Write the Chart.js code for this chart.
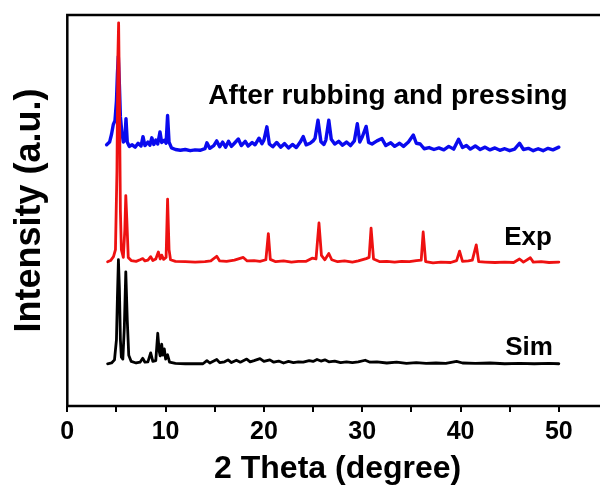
<!DOCTYPE html>
<html>
<head>
<meta charset="utf-8">
<script src="https://cdn.jsdelivr.net/npm/chart.js@4.4.1/dist/chart.umd.min.js"></script>
<style>
  html, body { margin: 0; padding: 0; background: #fff; overflow: hidden; }
  #wrap { width: 620px; height: 488px; }
</style>
</head>
<body>
<div id="wrap"><canvas id="xrd"></canvas></div>
<script>
// 2 theta values and offset intensities
const simX = [4.1, 4.5, 4.8, 5.0, 5.1, 5.2, 5.3, 5.4, 5.5, 5.65, 5.8, 5.95, 6.1, 6.25, 6.5, 7.0, 7.4, 7.67, 7.9, 8.2,
  8.48, 8.7, 9.0, 9.2, 9.35, 9.45, 9.6, 9.72, 9.87, 10.0, 10.2, 10.4, 11, 12, 13, 13.8, 14.2, 14.5, 15.2, 15.5,
  16.0, 16.35, 16.7, 17.2, 17.6, 18.25, 18.6, 19.0, 19.6, 20.0, 20.6, 21.0, 21.5, 22.0, 22.5, 23.0, 23.5, 24.0, 24.6, 25.0,
  25.4, 25.8, 26.2, 26.6, 27.2, 27.8, 28.4, 29.0, 29.6, 30.3, 30.8, 31.5, 32.5, 33.5, 34.5, 35.5, 36.5, 37.5, 38.5, 39.6,
  40.2, 41.5, 43, 44.5, 46, 47.5, 49, 50.0];
const simY = [10.8, 11.0, 11.8, 17, 28, 37.4, 30, 17, 12.5, 12, 20, 34.3, 22, 13, 11.4, 11.0, 11.2, 12.2, 11.2, 11.3,
  13.6, 11.4, 11.6, 18.6, 14, 12.8, 15.8, 13, 14.6, 12, 13.1, 11.2, 10.9, 10.8, 10.8, 10.8, 11.6, 11, 11.9, 11.1,
  11.3, 11.8, 11.1, 11.7, 11.2, 12.0, 11.3, 11.6, 12.1, 11.4, 11.8, 11.2, 11.5, 11.0, 11.4, 11.1, 11.3, 11.2, 11.6, 11.4,
  11.9, 11.5, 11.8, 11.3, 11.5, 11.1, 11.3, 11.1, 11.3, 11.7, 11.2, 11.3, 11.0, 11.2, 10.9, 11.1, 10.9, 11.0, 10.9, 11.4,
  11.0, 10.9, 11.0, 10.8, 10.9, 10.8, 10.9, 10.8];

const expX = [4.1, 4.4, 4.7, 4.9, 5.05, 5.15, 5.22, 5.3, 5.4, 5.5, 5.7, 5.85, 5.95, 6.05, 6.2, 6.5, 7.0, 7.4, 7.67, 7.9,
  8.2, 8.48, 8.7, 9.0, 9.26, 9.45, 9.6, 9.8, 10.05, 10.2, 10.35, 10.5, 11, 12, 13, 14, 14.6, 15.2, 15.5, 16.2,
  17.0, 17.9, 18.3, 19.0, 19.6, 20.2, 20.45, 20.65, 21.2, 22, 22.8, 23.5, 24.3, 24.9, 25.3, 25.6, 25.85, 26.2, 26.6, 26.9,
  27.5, 28.2, 29.0, 29.6, 30.4, 30.7, 30.9, 31.15, 31.8, 32.5, 33.3, 34, 34.8, 35.5, 36.0, 36.2, 36.45, 37.2, 38, 39,
  39.6, 39.9, 40.2, 40.8, 41.2, 41.6, 41.85, 42.5, 43.5, 44.5, 45.4, 46.0, 46.4, 47.1, 47.4, 48.2, 49, 50.0];
const expY = [36.9, 37.2, 38.2, 40, 60, 90, 98, 80, 50, 40, 38, 45, 53.8, 48, 38, 37.2, 37.0, 37.4, 37.7, 37.1,
  37.3, 38.2, 37.2, 37.6, 39.4, 37.6, 38.6, 37.5, 38, 52.9, 40, 37.4, 37.0, 36.9, 36.8, 36.9, 37.1, 38.3, 37.1, 37.0,
  37.3, 38.0, 37.1, 37.2, 37.0, 37.4, 44.1, 37.5, 36.9, 37.1, 36.8, 37.0, 37.0, 37.8, 37.6, 46.8, 38.5, 37.4, 39.0, 37.4,
  36.9, 37.1, 36.8, 37.1, 37.7, 38, 45.5, 37.6, 36.9, 37.0, 36.8, 37.0, 36.9, 37.2, 37.3, 44.5, 36.9, 36.6, 36.8, 36.7,
  37.2, 39.6, 37, 37.1, 37.3, 41.2, 36.9, 36.8, 36.7, 36.8, 36.7, 37.6, 36.8, 37.9, 36.8, 36.9, 36.7, 36.8];

const rubX = [4.0, 4.3, 4.5, 4.68, 4.85, 5.0, 5.1, 5.19, 5.3, 5.4, 5.55, 5.7, 5.85, 5.97, 6.1, 6.3, 6.6, 6.9, 7.2, 7.5,
  7.7, 7.9, 8.2, 8.4, 8.6, 8.8, 9.0, 9.2, 9.43, 9.6, 9.9, 10.05, 10.2, 10.35, 10.6, 11.0, 11.5, 12.0, 12.5, 13.0,
  13.5, 14.0, 14.2, 14.5, 14.9, 15.2, 15.5, 15.8, 16.1, 16.4, 16.7, 17.0, 17.4, 17.7, 18.1, 18.4, 18.8, 19.1, 19.5, 19.8,
  20.0, 20.3, 20.55, 20.9, 21.3, 21.7, 22.1, 22.5, 22.9, 23.3, 23.7, 24.0, 24.3, 24.7, 25.0, 25.2, 25.5, 25.8, 26.1, 26.3,
  26.6, 26.85, 27.2, 27.6, 28.0, 28.4, 28.8, 29.2, 29.5, 29.75, 30.0, 30.4, 30.65, 31.0, 31.5, 32.0, 32.4, 32.9, 33.3, 33.8,
  34.2, 34.7, 35.2, 35.5, 35.9, 36.3, 36.8, 37.3, 37.8, 38.3, 38.8, 39.3, 39.8, 40.2, 40.6, 41.0, 41.5, 42.0, 42.5, 43.0,
  43.5, 44.0, 44.5, 45.0, 45.5, 46.0, 46.4, 46.9, 47.4, 47.9, 48.4, 48.9, 49.4, 50.0];
const rubY = [66.8, 67.5, 69.5, 72.0, 73.0, 78, 85, 89.4, 82, 74, 70, 67.5, 68, 73.5, 67.5, 66.4, 66.8, 66.2, 67.2, 66.5,
  68.9, 66.6, 67.5, 66.7, 68.6, 66.9, 68, 67, 70.1, 67.4, 68, 67.2, 74.3, 67.5, 66.0, 65.6, 65.4, 65.6, 65.3, 65.5,
  65.4, 65.8, 67.3, 65.9, 66.6, 67.8, 66.3, 67.5, 66.2, 67.7, 66.4, 67.2, 68.3, 66.6, 67.7, 66.5, 67.4, 66.8, 68.5, 67.1,
  68, 71.4, 67.0, 66.3, 67.4, 66.2, 67.1, 66.0, 66.9, 66.1, 67.5, 68.9, 66.8, 67.2, 67.8, 68.5, 73.1, 67.6, 66.9, 68,
  73.1, 68.2, 67.0, 67.7, 66.7, 67.5, 66.6, 67.8, 72.2, 67.5, 68.8, 71.5, 67.4, 67.0, 67.8, 68.4, 66.6, 67.3, 66.4, 67.2,
  66.4, 67.5, 69.3, 67.2, 67.0, 65.8, 66.1, 65.6, 66.0, 65.5, 66.4, 65.7, 68.2, 66.1, 66.6, 65.7, 66.5, 65.6, 66.2, 65.5,
  66.0, 65.4, 65.8, 65.3, 65.7, 67.2, 65.6, 65.9, 65.3, 65.8, 65.3, 65.9, 65.5, 66.2];

const seriesNames = ['Sim', 'Exp', 'After rubbing and pressing'];
const xTicks = [0, 10, 20, 30, 40, 50];

function toPoints(xs, ys) {
  return xs.map((x, i) => ({ x: x, y: ys[i] }));
}

// curve labels, placed in data units (right edge, vertical middle)
const labelSpots = [
  { text: seriesNames[2], x: 50.9, y: 79.3, size: 28 },
  { text: seriesNames[1], x: 49.3, y: 42.9, size: 26 },
  { text: seriesNames[0], x: 49.4, y: 14.9, size: 26 }
];

const frameAndLabels = {
  id: 'frameAndLabels',
  afterDatasetsDraw(chart) {
    const { ctx, chartArea: a, scales } = chart;
    ctx.save();
    ctx.fillStyle = '#000';
    ctx.textAlign = 'right';
    ctx.textBaseline = 'middle';
    labelSpots.forEach(l => {
      ctx.font = 'bold ' + l.size + 'px "Liberation Sans", Arial, sans-serif';
      ctx.fillText(l.text, scales.x.getPixelForValue(l.x), scales.y.getPixelForValue(l.y));
    });
    ctx.strokeStyle = '#000';
    ctx.lineWidth = 2.5;
    ctx.strokeRect(a.left, a.top, a.right - a.left, a.bottom - a.top);
    ctx.restore();
  }
};

const font = '"Liberation Sans", Arial, sans-serif';

new Chart(document.getElementById('xrd'), {
  type: 'line',
  data: {
    datasets: [{
      label: seriesNames[1],
      data: toPoints(expX, expY),
      borderColor: '#ee1111',
      borderWidth: 2.8,
      order: 0
    }, {
      label: seriesNames[0],
      data: toPoints(simX, simY),
      borderColor: '#000000',
      borderWidth: 2.8,
      order: 1
    }, {
      label: seriesNames[2],
      data: toPoints(rubX, rubY),
      borderColor: '#0a0aee',
      borderWidth: 3.4,
      order: 2
    }]
  },
  options: {
    responsive: true,
    maintainAspectRatio: false,
    animation: false,
    parsing: false,
    elements: {
      point: { radius: 0 },
      line: { tension: 0, borderJoinStyle: 'round', borderCapStyle: 'round' }
    },
    layout: { padding: { left: 8.4, top: 15, right: 12, bottom: 0.8 } },
    plugins: { legend: { display: false }, tooltip: { enabled: false } },
    scales: {
      x: {
        type: 'linear',
        min: 0,
        max: 55,
        border: { display: false },
        grid: { drawOnChartArea: false, drawTicks: true, tickLength: 6, color: '#000', lineWidth: 2 },
        ticks: {
          stepSize: 5,
          padding: 5,
          color: '#000',
          font: { family: font, size: 25, weight: 'bold', lineHeight: 1.2 },
          callback: v => xTicks.includes(v) ? String(v) : ''
        },
        title: {
          display: true,
          text: '2 Theta (degree)',
          color: '#000',
          padding: { top: 0, bottom: 0 },
          font: { family: font, size: 32, weight: 'bold', lineHeight: 1.1 }
        }
      },
      y: {
        min: 0,
        max: 100,
        border: { display: false },
        grid: { display: false, drawTicks: false },
        ticks: { display: false },
        title: {
          display: true,
          text: 'Intensity (a.u.)',
          color: '#000',
          padding: { top: 0, bottom: 15.7 },
          font: { family: font, size: 36, weight: 'bold', lineHeight: 1.2 }
        }
      }
    }
  },
  plugins: [frameAndLabels]
});
</script>
</body>
</html>
